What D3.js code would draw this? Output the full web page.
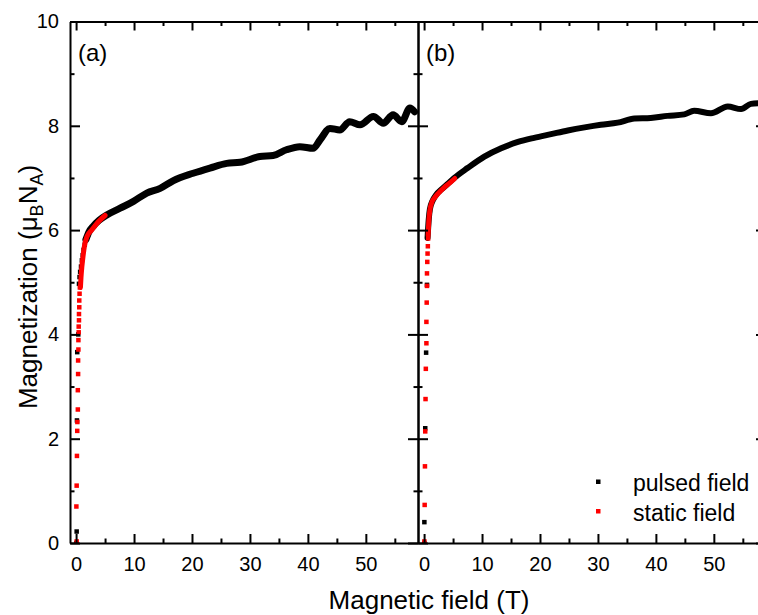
<!DOCTYPE html>
<html>
<head>
<meta charset="utf-8">
<script src="https://cdn.jsdelivr.net/npm/d3@7"></script>
<style>
  body { margin: 0; background: #fff; }
  text { font-family: "Liberation Sans", Arial, sans-serif; fill: #000; }
</style>
</head>
<body>
<div id="chart"></div>
<script>
// values: [field (T), magnetization (muB NA)]
// panel (a)
const pulsedA_dots = [
  [0.05, 0.0], [0.1, 0.22], [0.15, 2.35], [0.2, 3.66], [0.38, 4.0], [0.5, 4.97], [0.6, 5.1],
  [0.7, 5.2], [0.85, 5.3], [1.0, 5.42], [1.15, 5.52], [1.3, 5.62], [1.5, 5.72]
];
const pulsedA_curve = [
  [1.7, 5.82], [2.2, 5.96], [3.0, 6.08],
  [4.0, 6.19], [5.3, 6.29], [7.6, 6.42], [9.9, 6.55], [12.2, 6.71], [14.5, 6.8], [16.8, 6.95],
  [20.2, 7.09], [23.1, 7.19], [26.0, 7.28], [28.3, 7.3], [31.7, 7.41], [34.0, 7.43], [36.3, 7.54],
  [38.6, 7.6], [40.9, 7.57], [42.1, 7.73], [43.8, 7.95], [45.5, 7.92], [47.2, 8.08], [49.0, 8.02],
  [51.3, 8.18], [53.0, 8.05], [54.7, 8.21], [56.2, 8.08], [57.6, 8.34], [58.4, 8.27]
];
const staticA_dots = [
  [0.1, 0.03], [0.05, 0.7], [0.1, 1.1], [0.15, 1.67], [0.2, 2.15], [0.22, 2.32], [0.3, 2.56],
  [0.3, 2.93], [0.35, 3.24], [0.35, 3.5], [0.4, 3.71], [0.4, 3.89], [0.45, 4.04], [0.45, 4.15],
  [0.5, 4.27], [0.5, 4.39], [0.55, 4.52], [0.55, 4.65], [0.6, 4.78], [0.65, 4.9]
];
const staticA_curve = [
  [0.75, 4.9], [0.85, 5.1], [1.0, 5.3], [1.2, 5.5], [1.45, 5.7], [1.9, 5.88], [2.7, 6.0],
  [3.6, 6.13], [4.3, 6.21], [5.0, 6.28]
];
// panel (b)
const pulsedB_dots = [[0.05, 0.0], [0.05, 0.4], [0.2, 2.2], [0.35, 3.65], [0.5, 4.95]];
const pulsedB_curve = [
  [0.6, 5.85], [0.8, 6.2], [1.0, 6.4], [1.5, 6.57], [2.1, 6.68], [3.0, 6.78], [4.0, 6.88],
  [5.2, 7.0], [7.5, 7.19], [10.4, 7.41], [13.3, 7.57], [16.2, 7.69], [19.0, 7.77], [21.9, 7.84],
  [24.8, 7.91], [27.7, 7.97], [30.5, 8.02], [33.4, 8.06], [36.3, 8.14], [39.1, 8.15], [42.0, 8.19],
  [44.9, 8.22], [46.6, 8.29], [49.5, 8.24], [52.4, 8.37], [54.7, 8.32], [56.4, 8.42], [58.5, 8.44]
];
const staticB_dots = [
  [0.05, 0.03], [0.1, 0.73], [0.15, 1.47], [0.2, 2.14], [0.25, 2.76], [0.3, 3.34], [0.4, 3.83],
  [0.4, 4.24], [0.45, 4.61], [0.5, 4.93], [0.5, 5.17], [0.55, 5.39], [0.6, 5.55], [0.65, 5.69],
  [0.7, 5.84]
];
const staticB_curve = [
  [0.7, 5.9], [0.8, 6.15], [1.0, 6.38], [1.3, 6.52], [1.8, 6.62], [2.4, 6.7], [3.5, 6.82],
  [4.4, 6.9], [5.3, 6.99]
];

const xTicks = [0, 10, 20, 30, 40, 50];
const xMinor = [5, 15, 25, 35, 45, 55];
const yTicks = [0, 2, 4, 6, 8, 10];
const yMinor = [1, 3, 5, 7, 9];
const panelLabels = ["(a)", "(b)"];
const legendLabels = ["pulsed field", "static field"];
const xTitle = "Magnetic field (T)";

function renderChart(containerId) {
  const width = 758;
  const height = 615;
  const plotTop = 21.5;
  const plotBottom = 543;
  const panelW = 348;
  const left = 70;

  const container = d3.select(`#${containerId}`);
  container.html("");

  const svg = container.append("svg")
    .attr("width", width)
    .attr("height", height);

  const y = d3.scaleLinear().domain([0, 10]).range([plotBottom, plotTop]);

  const panels = [
    { label: panelLabels[0], pulsedDots: pulsedA_dots, pulsedCurve: pulsedA_curve,
      staticDots: staticA_dots, staticCurve: staticA_curve, pulsedW: 7 },
    { label: panelLabels[1], pulsedDots: pulsedB_dots, pulsedCurve: pulsedB_curve,
      staticDots: staticB_dots, staticCurve: staticB_curve, pulsedW: 6 }
  ];

  const styleAxis = g => {
    g.attr("font-size", 20).attr("font-family", '"Liberation Sans", Arial, sans-serif');
    g.selectAll("line, path").attr("stroke", "#000").attr("stroke-width", 2);
  };

  panels.forEach((p, i) => {
    const x0 = left + i * panelW;
    const x = d3.scaleLinear().domain([-1.05, 59]).range([x0, x0 + panelW]);

    svg.append("clipPath").attr("id", `clip${i}`)
      .append("rect")
      .attr("x", x0).attr("y", plotTop)
      .attr("width", panelW).attr("height", plotBottom - plotTop);

    const g = svg.append("g").attr("clip-path", `url(#clip${i})`);

    const line = d3.line()
      .x(d => x(d[0]))
      .y(d => y(d[1]))
      .curve(d3.curveMonotoneX);

    const s = 4.5;
    // pulsed field (black)
    g.append("path")
      .datum(p.pulsedCurve)
      .attr("fill", "none")
      .attr("stroke", "#000")
      .attr("stroke-width", p.pulsedW)
      .attr("stroke-linejoin", "round")
      .attr("stroke-linecap", "round")
      .attr("d", line);
    g.selectAll("rect.pulsed")
      .data(p.pulsedDots)
      .join("rect")
      .attr("class", "pulsed")
      .attr("x", d => x(d[0]) - s / 2)
      .attr("y", d => y(d[1]) - s / 2)
      .attr("width", s).attr("height", s)
      .attr("fill", "#000");

    // static field (red)
    g.append("path")
      .datum(p.staticCurve)
      .attr("fill", "none")
      .attr("stroke", "#ff0000")
      .attr("stroke-width", 5)
      .attr("stroke-linejoin", "round")
      .attr("stroke-linecap", "round")
      .attr("d", line);
    g.selectAll("rect.static")
      .data(p.staticDots)
      .join("rect")
      .attr("class", "static")
      .attr("x", d => x(d[0]) - s / 2)
      .attr("y", d => y(d[1]) - s / 2)
      .attr("width", s).attr("height", s)
      .attr("fill", "#ff0000");

    // frame with inward ticks
    svg.append("g")
      .attr("transform", `translate(0,${plotBottom})`)
      .call(d3.axisBottom(x).tickValues(xTicks).tickSize(-9).tickSizeOuter(0).tickPadding(14))
      .call(styleAxis);
    svg.append("g")
      .attr("transform", `translate(0,${plotBottom})`)
      .call(d3.axisBottom(x).tickValues(xMinor).tickSize(-4.5).tickSizeOuter(0).tickFormat(""))
      .call(styleAxis)
      .call(a => a.select(".domain").remove());
    svg.append("g")
      .attr("transform", `translate(0,${plotTop})`)
      .call(d3.axisTop(x).tickValues(xTicks).tickSize(-9).tickSizeOuter(0).tickFormat(""))
      .call(styleAxis);
    svg.append("g")
      .attr("transform", `translate(0,${plotTop})`)
      .call(d3.axisTop(x).tickValues(xMinor).tickSize(-4.5).tickSizeOuter(0).tickFormat(""))
      .call(styleAxis)
      .call(a => a.select(".domain").remove());

    const yAxis = d3.axisLeft(y).tickValues(yTicks).tickSize(-10).tickSizeOuter(0).tickPadding(11);
    if (i > 0) yAxis.tickFormat("");
    svg.append("g")
      .attr("transform", `translate(${x0},0)`)
      .call(yAxis)
      .call(styleAxis);
    svg.append("g")
      .attr("transform", `translate(${x0},0)`)
      .call(d3.axisLeft(y).tickValues(yMinor).tickSize(-4.5).tickSizeOuter(0).tickFormat(""))
      .call(styleAxis)
      .call(a => a.select(".domain").remove());
    svg.append("g")
      .attr("transform", `translate(${x0 + panelW},0)`)
      .call(d3.axisRight(y).tickValues(yTicks).tickSize(-10).tickSizeOuter(0).tickFormat(""))
      .call(styleAxis);
    svg.append("g")
      .attr("transform", `translate(${x0 + panelW},0)`)
      .call(d3.axisRight(y).tickValues(yMinor).tickSize(-4.5).tickSizeOuter(0).tickFormat(""))
      .call(styleAxis)
      .call(a => a.select(".domain").remove());

    svg.append("text")
      .attr("x", x0 + 8)
      .attr("y", 61)
      .attr("font-size", 24)
      .text(p.label);
  });

  // legend
  const legend = svg.append("g");
  const colors = ["#000", "#ff0000"];
  legendLabels.forEach((lab, i) => {
    const ly = 491 + i * 29.5;
    legend.append("rect")
      .attr("x", 596).attr("y", ly - 11.5)
      .attr("width", 4.5).attr("height", 4.5)
      .attr("fill", colors[i]);
    legend.append("text")
      .attr("x", 633).attr("y", ly)
      .attr("font-size", 23)
      .text(lab);
  });

  // axis titles
  svg.append("text")
    .attr("x", 429)
    .attr("y", 609)
    .attr("text-anchor", "middle")
    .attr("font-size", 26)
    .text(xTitle);

  const yt = svg.append("text")
    .attr("transform", "translate(37,287) rotate(-90)")
    .attr("text-anchor", "middle")
    .attr("font-size", 26);
  yt.append("tspan").text("Magnetization (\u03bc");
  yt.append("tspan").attr("font-size", 18).attr("dy", 6).text("B");
  yt.append("tspan").attr("dy", -6).text("N");
  yt.append("tspan").attr("font-size", 18).attr("dy", 6).text("A");
  yt.append("tspan").attr("dy", -6).text(")");
}

renderChart("chart");
</script>
</body>
</html>
